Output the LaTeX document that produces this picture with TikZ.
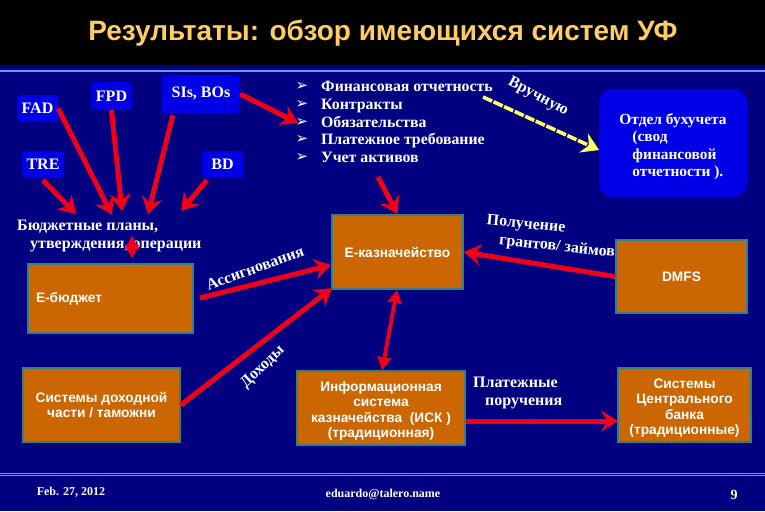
\documentclass[tikz,border=0pt]{standalone}
\usepackage{fontspec}
\setmainfont{Liberation Serif}
\setsansfont{Liberation Sans}
\newfontfamily\bulletfont{DejaVu Sans}
\usetikzlibrary{arrows.meta}
\definecolor{navybg}{HTML}{000080}
\definecolor{bluefill}{HTML}{0000E6}
\definecolor{orangefill}{HTML}{CC6600}
\definecolor{tealedge}{HTML}{338080}
\definecolor{redline}{HTML}{F00018}
\definecolor{yellowline}{HTML}{FFFF66}
\definecolor{titlecolor}{HTML}{FFCC66}
\definecolor{rulecolor}{HTML}{6699FF}
\tikzset{
  bluebox/.style={fill=bluefill,rounded corners=3pt,text=white,inner sep=0pt,font=\bfseries\fontsize{16}{18}\selectfont},
  orangebox/.style={fill=orangefill,draw=tealedge,line width=1.5pt,text=white,inner sep=0pt,align=center,font=\sffamily\bfseries\fontsize{13.7}{15.5}\selectfont},
  serifnote/.style={text=white,inner sep=0pt,align=left,font=\bfseries\fontsize{16}{18}\selectfont},
  redarrow/.style={draw=redline,line width=5pt,-{Stealth[length=17pt,width=21pt,inset=6pt]}},
  reddouble/.style={draw=redline,line width=3.8pt,{Stealth[length=13pt,width=14pt,inset=1pt]}-{Stealth[length=13pt,width=14pt,inset=1pt]}},
  yellowarrow/.style={draw=yellowline,line width=3.6pt,dash pattern=on 10pt off 1.6pt,-{Stealth[length=17pt,width=21pt,inset=6pt]}}
}
\begin{document}
\begin{tikzpicture}[x=1pt,y=-1pt]
  \useasboundingbox (0,0) rectangle (765,511);
  \fill[navybg] (0,0) rectangle (765,511);
  \fill[black] (0,0) rectangle (765,65);
  \draw[rulecolor,line width=1.2pt] (0,71) -- (765,71);
  \draw[rulecolor,line width=0.8pt] (0,473) -- (765,473);
  \draw[rulecolor,line width=0.8pt] (0,475.5) -- (765,475.5);
  \draw
    (383,33) node[text=titlecolor,inner sep=0pt,font=\sffamily\bfseries\fontsize{28}{30}\selectfont] (title){Результаты: обзор имеющихся систем УФ}
    (37.5,108.5) node[bluebox,minimum width=41,minimum height=27] (fad){FAD}
    (111.5,96) node[bluebox,minimum width=41,minimum height=28] (fpd){FPD}
    (201,94) node[bluebox,minimum width=78,minimum height=38,text depth=4pt] (sis){SIs, BOs}
    (43,164.5) node[bluebox,minimum width=42,minimum height=27] (tre){TRE}
    (222.5,164.5) node[bluebox,minimum width=41,minimum height=27] (bd){BD}
    (673,143) node[fill=bluefill,rounded corners=14pt,minimum width=148,minimum height=108,text=white,inner sep=0pt,align=left,font=\bfseries\fontsize{15.4}{17.5}\selectfont] (dept){\rule{0pt}{18pt}Отдел бухучета\\\hspace*{13pt}(свод\\\hspace*{13pt}финансовой\\\hspace*{13pt}отчетности ).}
    (110.5,298.5) node[orangebox,minimum height=69,text width=149,inner xsep=8pt,align=left] (ebudget){Е-бюджет}
    (101.5,405) node[orangebox,minimum width=157,minimum height=74] (income){Системы доходной\\части / таможни}
    (397.5,252) node[orangebox,minimum width=131,minimum height=74] (treasury){Е-казначейство}
    (681.5,276.5) node[orangebox,minimum width=131,minimum height=73] (dmfs){DMFS}
    (381,408) node[orangebox,minimum width=168,minimum height=74] (isk){\rule{0pt}{16pt}Информационная\\система\\казначейства\ \ (ИСК )\\(традиционная)}
    (684.5,405) node[orangebox,minimum width=133,minimum height=74] (bank){\rule{0pt}{16pt}Системы\\Центрального\\банка\\(традиционные)}
    (17,236) node[serifnote,anchor=west] (plans){Бюджетные планы,\\\hspace*{13pt}утверждения, операции}
    (321,122) node[serifnote,anchor=west,font=\bfseries\fontsize{15.8}{17.6}\selectfont] (docs){Финансовая отчетность\\Контракты\\Обязательства\\Платежное требование\\Учет активов}
    (302,122) node[text=white,inner sep=0pt,align=center,font=\bulletfont\fontsize{15}{17.6}\selectfont] (bullets){➢\\➢\\➢\\➢\\➢}
    (538,97) node[serifnote,rotate=-28] (manual){Вручную}
    (526,225) node[serifnote,rotate=-6] (grants1){Получение}
    (557,247) node[serifnote,rotate=-6] (grants2){грантов/ займов}
    (255,268) node[serifnote,rotate=20] (assign){Ассигнования}
    (263,367) node[serifnote,rotate=44] (revenue){Доходы}
    (473,393) node[serifnote,anchor=west] (orders){Платежные\\\hspace*{12pt}поручения}
    (71,492) node[text=white,inner sep=0pt,font=\bfseries\fontsize{12}{14}\selectfont] (date){Feb. 27, 2012}
    (383,494) node[text=white,inner sep=0pt,font=\bfseries\fontsize{12}{14}\selectfont] (mail){eduardo@talero.name}
    (734,495) node[text=white,inner sep=0pt,font=\bfseries\fontsize{14}{16}\selectfont] (page){9};
  \coordinate (p1) at (76,214);
  \coordinate (p2) at (112,215);
  \coordinate (p3) at (122,211);
  \coordinate (p4) at (148,214);
  \coordinate (p5) at (181,211);
  \coordinate (d1) at (298,123);
  \coordinate (d2) at (378,177);
  \coordinate (d3) at (483,97);
  \coordinate (b1) at (132,236);
  \coordinate (b2) at (132,258);
  \coordinate (a1) at (200,298);
  \coordinate (t1) at (331,265);
  \coordinate (t2) at (332,288);
  \coordinate (t3) at (397,290);
  \coordinate (i1) at (382,370);
  \coordinate (m1) at (599,150);
  \coordinate (c1) at (618,421);
  \begin{scope}[redarrow]
    \draw (fad.east) to (p2);
    \draw (fpd.south) to (p3);
    \draw (sis.south west)++(11,2) to (p4);
    \draw (tre.south)++(0,2) to (p1);
    \draw (bd.south west)++(5,2) to (p5);
    \draw (sis.east) to (d1);
    \draw (d2) to (treasury.north);
    \draw (a1) to (t1);
    \draw (income.east) to (t2);
    \draw (dmfs.west) to (treasury.east);
    \draw (isk.east|-c1) to (c1);
  \end{scope}
  \draw[reddouble] (b1) to (b2);
  \draw[reddouble] (i1) to (t3);
  \draw[yellowarrow] (d3) to (m1);
\end{tikzpicture}
\end{document}
